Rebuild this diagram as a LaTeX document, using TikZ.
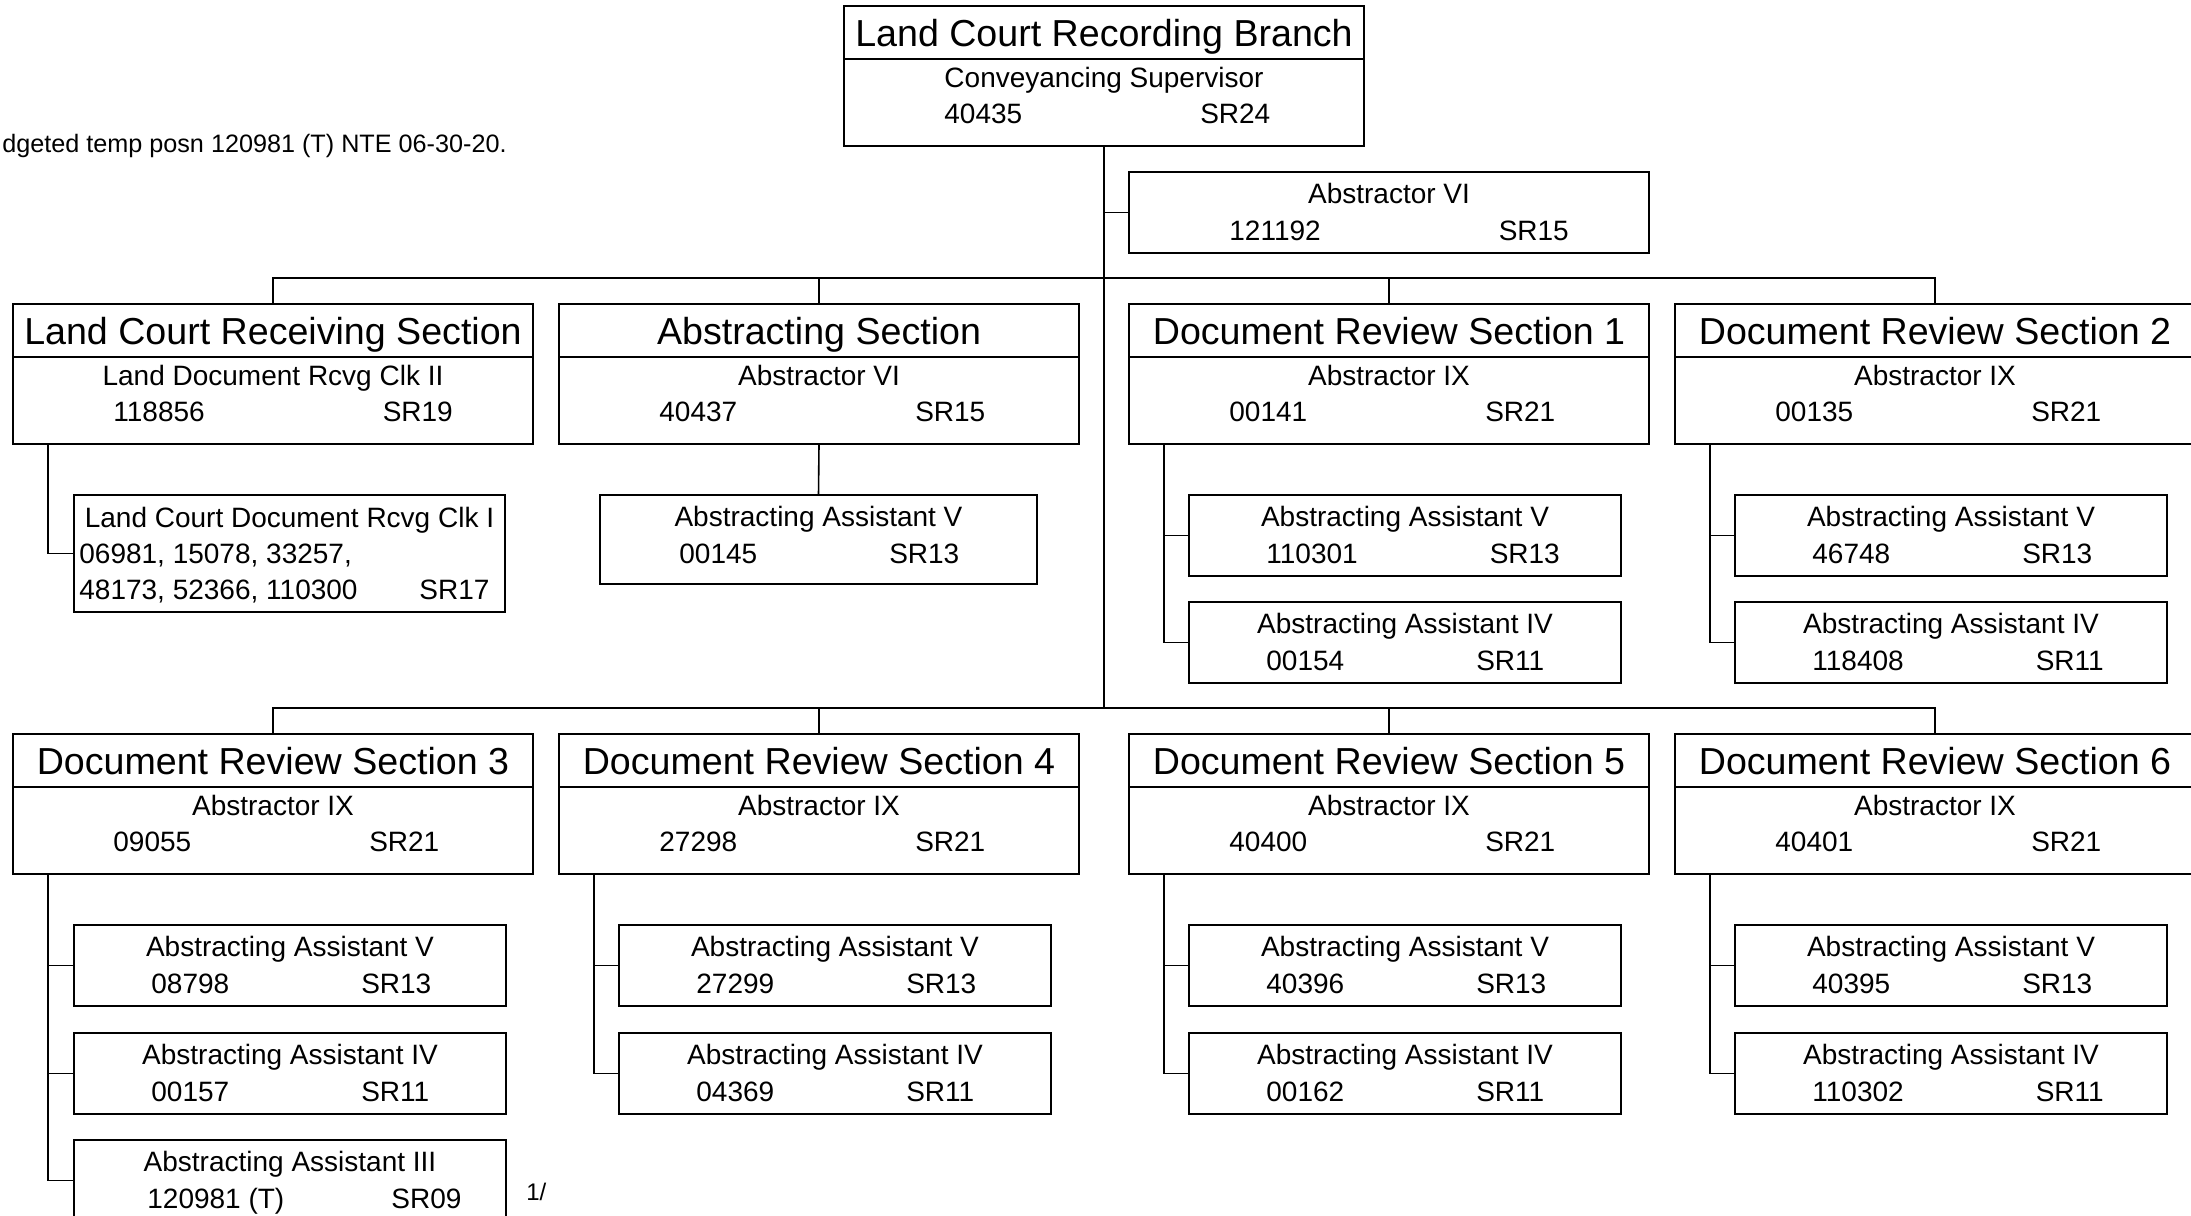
\documentclass[tikz,border=0pt]{standalone}
\usepackage{fontspec}
\setmainfont{Liberation Sans}
\usetikzlibrary{ calc, positioning }
\tikzset{
head/.style={draw, line width=1pt, outer sep=0pt, inner sep=0pt, minimum width=260pt, minimum height=26.5pt, text height=13.5pt, text depth=0pt, font=\fontsize{18.8}{22}\selectfont}, % name of a section
body/.style={draw, line width=1pt, outer sep=0pt, minimum width=260pt, minimum height=43.5pt}, % head position of a section
posn/.style={draw, line width=1pt, outer sep=0pt, minimum width=216pt, minimum height=40.5pt}, % a single position
txt/.style={inner sep=0pt, font=\fontsize{14}{17}\selectfont},
note/.style={inner sep=0pt, font=\fontsize{12.6}{15}\selectfont},
link/.style={line width=0.8pt},
numx/.store in=\numx, numx=77, % where the position number starts
srgap/.store in=\srgap, srgap=66pt, % space between number and grade
}

% section: name, left, top, section, position, number, grade
\newcommand{\secbox}[7]{%
  \node[head, anchor=north west] (#1-h) at (#2,#3) {#4};
  \node[body, below=0pt of #1-h] (#1) {};
  \node[txt, anchor=base] at ($(#1.north)+(0,28)$) {#5};
  \node[txt, anchor=base west] at ($(#1.north west)+(100,64)$) {#6\hspace{89pt}#7};
}
% position: [options] name, left, top, position, number, grade
\newcommand{\posbox}[7][]{%
  \begin{scope}[#1]
    \node[posn, anchor=north west] (#2) at (#3,#4) {};
    \node[txt, anchor=base] at ($(#2.north)+(0,31)$) {#5};
    \node[txt, anchor=base west] at ($(#2.north west)+(\numx,68)$) {#6\hspace{\srgap}#7};
  \end{scope}}

\begin{document}
\begin{tikzpicture}[x=0.5pt,y=-0.5pt]
  \useasboundingbox (0,0) rectangle (2191,1216);
  \clip (0,0) rectangle (2191,1216);

  \secbox{br}{844}{6}{Land Court Recording Branch}{Conveyancing Supervisor}{40435}{SR24}
  \posbox[posn/.append style={minimum width=260pt}, numx=100, srgap=89pt]{av6}{1129}{172}{Abstractor VI}{121192}{SR15}
  \node[note, anchor=base east] (fn) at (507,152) {dgeted temp posn 120981 (T) NTE 06-30-20.};

  % first row
  \secbox{lcrs}{13}{304}{Land Court Receiving Section}{Land Document Rcvg Clk II}{118856}{SR19}
  \secbox{abs}{559}{304}{Abstracting Section}{Abstractor VI}{40437}{SR15}
  \secbox{drs1}{1129}{304}{Document Review Section 1}{Abstractor IX}{00141}{SR21}
  \secbox{drs2}{1675}{304}{Document Review Section 2}{Abstractor IX}{00135}{SR21}

  \node[posn, minimum width=215.5pt, minimum height=58.5pt, anchor=north west] (rc1) at (74,495) {};
  \node[txt, anchor=base] at ($(rc1.north)+(0,32)$) {Land Court Document Rcvg Clk I};
  \node[txt, anchor=base west] at ($(rc1.north west)+(5,68)$) {06981, 15078, 33257,};
  \node[txt, anchor=base west] at ($(rc1.north west)+(5,104)$) {48173, 52366, 110300};
  \node[txt, anchor=base west] at ($(rc1.north west)+(345,104)$) {SR17};
  \posbox[posn/.append style={minimum width=218.5pt, minimum height=44.5pt}, numx=79]{aa5}{600}{495}{Abstracting Assistant V}{00145}{SR13}
  \posbox{d1a}{1189}{495}{Abstracting Assistant V}{110301}{SR13}
  \posbox{d1b}{1189}{602}{Abstracting Assistant IV}{00154}{SR11}
  \posbox{d2a}{1735}{495}{Abstracting Assistant V}{46748}{SR13}
  \posbox{d2b}{1735}{602}{Abstracting Assistant IV}{118408}{SR11}

  % second row
  \secbox{drs3}{13}{734}{Document Review Section 3}{Abstractor IX}{09055}{SR21}
  \secbox{drs4}{559}{734}{Document Review Section 4}{Abstractor IX}{27298}{SR21}
  \secbox{drs5}{1129}{734}{Document Review Section 5}{Abstractor IX}{40400}{SR21}
  \secbox{drs6}{1675}{734}{Document Review Section 6}{Abstractor IX}{40401}{SR21}

  \posbox{d3a}{74}{925}{Abstracting Assistant V}{08798}{SR13}
  \posbox{d3b}{74}{1033}{Abstracting Assistant IV}{00157}{SR11}
  \posbox[numx=73, srgap=53.5pt]{d3c}{74}{1140}{Abstracting Assistant III}{120981 (T)}{SR09}
  \node[txt, font=\fontsize{12}{14}\selectfont, anchor=base west] (fnmark) at ($(d3c.north east)+(20,60)$) {1/};
  \posbox{d4a}{619}{925}{Abstracting Assistant V}{27299}{SR13}
  \posbox{d4b}{619}{1033}{Abstracting Assistant IV}{04369}{SR11}
  \posbox{d5a}{1189}{925}{Abstracting Assistant V}{40396}{SR13}
  \posbox{d5b}{1189}{1033}{Abstracting Assistant IV}{00162}{SR11}
  \posbox{d6a}{1735}{925}{Abstracting Assistant V}{40395}{SR13}
  \posbox{d6b}{1735}{1033}{Abstracting Assistant IV}{110302}{SR11}

  % connectors
  \coordinate (j1) at (br.south |- 0,278);
  \coordinate (j2) at (br.south |- 0,708);
  \draw[link] (br.south) -- (j2);
  \draw[link] (av6.west) -| (br.south);
  \foreach \s in {lcrs,abs,drs1,drs2} \draw[link] (\s-h.north) |- (j1);
  \foreach \s in {drs3,drs4,drs5,drs6} \draw[link] (\s-h.north) |- (j2);
  \draw[link] (abs.south) -- (aa5.north);
  \foreach \p/\c in {lcrs/rc1, drs1/d1a, drs1/d1b, drs2/d2a, drs2/d2b, drs3/d3a, drs3/d3b, drs3/d3c, drs4/d4a, drs4/d4b, drs5/d5a, drs5/d5b, drs6/d6a, drs6/d6b}
    \draw[link] ($(\p.south west)+(35,0)$) |- (\c.west);
\end{tikzpicture}
\end{document}
